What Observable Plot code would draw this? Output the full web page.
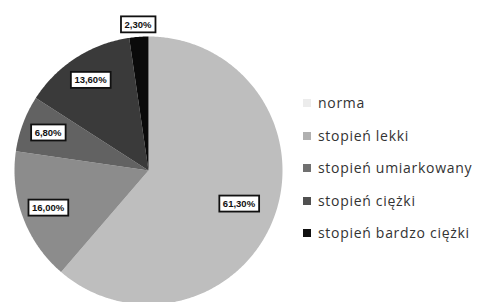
<!DOCTYPE html>
<html><head><meta charset="utf-8">
<script src="https://cdn.jsdelivr.net/npm/d3@7"></script>
<script src="https://cdn.jsdelivr.net/npm/@observablehq/plot@0.6"></script>
<style>
html,body{margin:0;padding:0;background:#fff;}
#wrap{position:relative;width:477px;height:302px;overflow:hidden;}
#chart{position:absolute;left:0;top:0;}
#legend{position:absolute;left:303px;top:93px;font-family:"Open Sans",sans-serif;font-size:14px;color:#333;letter-spacing:0.7px;}
.item{height:32.5px;display:flex;align-items:flex-start;white-space:nowrap;}
.sw{width:8px;height:8px;margin-right:7px;margin-top:6px;flex:none;}
</style></head>
<body><div id="wrap"><div id="chart"></div><div id="legend"></div></div>
<script>
const categories = ["norma","stopień lekki","stopień umiarkowany","stopień ciężki","stopień bardzo ciężki"];
const values = [61.3, 16.0, 6.8, 13.6, 2.3];
const labels = ["61,30%","16,00%","6,80%","13,60%","2,30%"];
const sliceColors = ["#bebebe","#8c8c8c","#626262","#3a3a3a","#0a0a0a"];
const legendColors = ["#ececec","#b0b0b0","#707070","#505050","#101010"];

const arcs = d3.pie().sort(null)(values);
const pts = [];
arcs.forEach((a, i) => {
  const cat = categories[i];
  pts.push({x: 0, y: 0, cat});
  const n = Math.max(2, Math.ceil((a.endAngle - a.startAngle) / 0.01));
  for (let k = 0; k <= n; k++) {
    const t = a.startAngle + (a.endAngle - a.startAngle) * k / n;
    pts.push({x: Math.sin(t), y: Math.cos(t), cat});
  }
  pts.push({x: 0, y: 0, cat});
});
const lbl = arcs.map((a, i) => {
  const m = (a.startAngle + a.endAngle) / 2;
  const f = values[i] < 5 ? 1.09 : values[i] > 50 ? 0.72 : 0.8;
  return {x: f * Math.sin(m), y: f * Math.cos(m), text: labels[i]};
});

const plot = Plot.plot({
  width: 290, height: 302,
  margin: 0,
  x: {domain: [-1, 1], range: [14, 282], axis: null},
  y: {domain: [-1, 1], range: [304, 36], axis: null},
  color: {domain: categories, range: sliceColors},
  marks: [
    Plot.line(pts, {x: "x", y: "y", z: "cat", fill: "cat", stroke: "none", curve: "linear"}),
    Plot.text(lbl, {x: "x", y: "y", text: "text", fill: "#111", fontSize: 9.5, fontWeight: "bold",
      fontFamily: "Liberation Sans, Arial, sans-serif", className: "lbl"})
  ]
});
document.getElementById("chart").appendChild(plot);

// boxes behind labels
d3.select(plot).selectAll(".lbl text").each(function() {
  const b = this.getBBox();
  const tr = this.getAttribute("transform");
  const r = d3.select(this.parentNode).insert("rect", () => this)
    .attr("x", b.x - 3.5).attr("y", b.y - 2.5)
    .attr("width", b.width + 7).attr("height", b.height + 5)
    .attr("fill", "#fff").attr("stroke", "#111").attr("stroke-width", 1.8);
  if (tr) r.attr("transform", tr);
});

const lg = d3.select("#legend");
categories.forEach((c, i) => {
  const it = lg.append("div").attr("class", "item");
  it.append("div").attr("class", "sw").style("background", legendColors[i]);
  it.append("span").text(c);
});
</script></body></html>
